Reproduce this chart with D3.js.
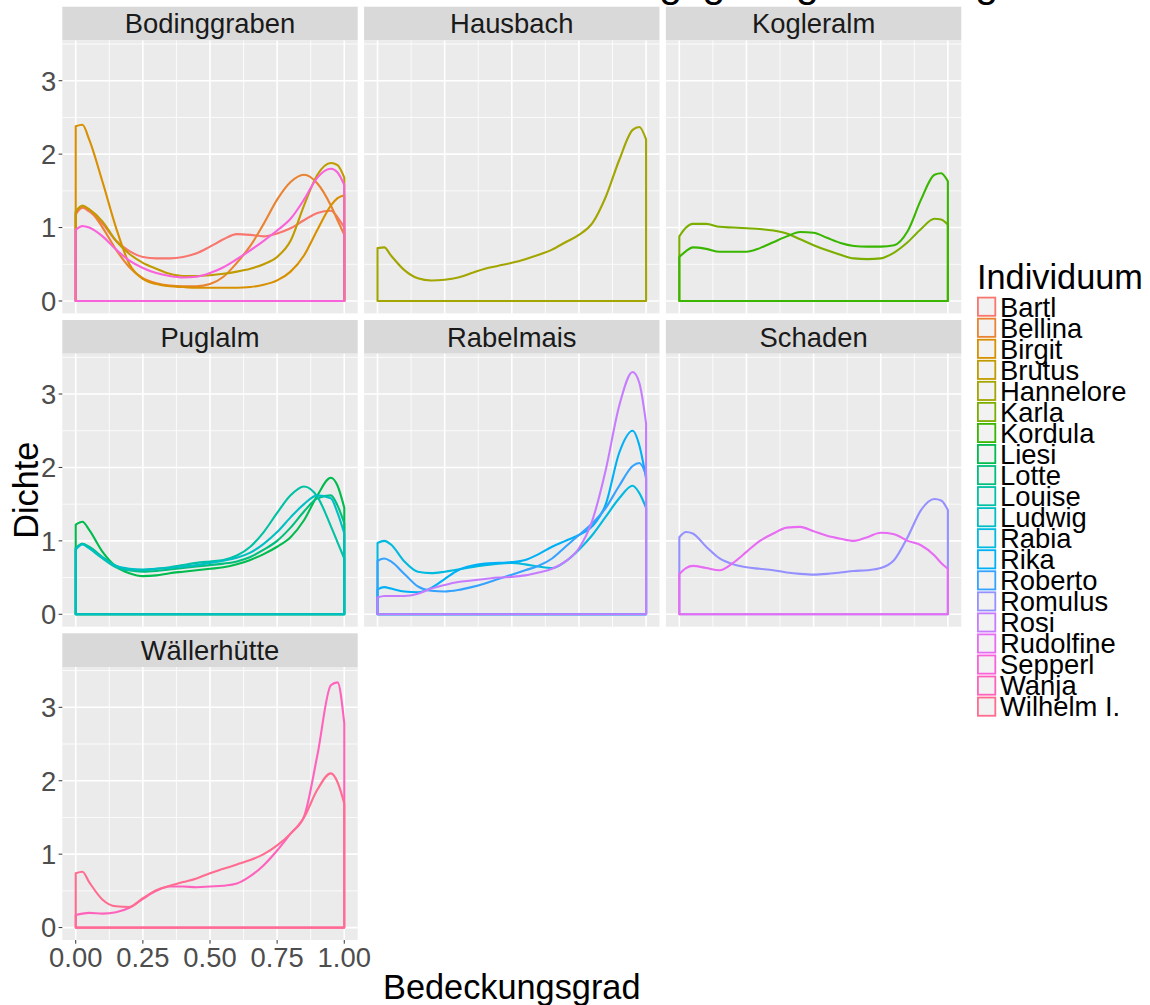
<!DOCTYPE html>
<html>
<head>
<meta charset="utf-8">
<script src="https://cdn.jsdelivr.net/npm/d3@7"></script>
<style>
  body { margin: 0; background: #fff; }
  svg { display: block; font-family: "Liberation Sans", Arial, sans-serif; }
</style>
</head>
<body>
<script>
// facets and individuals (colour order = factor order)
const facets = ["Bodinggraben", "Hausbach", "Kogleralm", "Puglalm", "Rabelmais", "Schaden", "Wällerhütte"];
const individuals = ["Bartl", "Bellina", "Birgit", "Brutus", "Hannelore", "Karla", "Kordula", "Liesi", "Lotte", "Louise",
  "Ludwig", "Rabia", "Rika", "Roberto", "Romulus", "Rosi", "Rudolfine", "Sepperl", "Wanja", "Wilhelm I."];
const colours = ["#F8766D", "#EA8331", "#D89000", "#C09B00", "#A3A500", "#7CAE00", "#39B600", "#00BB4E", "#00BF7D", "#00C1A3",
  "#00BFC4", "#00BAE0", "#00B0F6", "#35A2FF", "#9590FF", "#C77CFF", "#E76BF3", "#FA62DB", "#FF62BC", "#FF6C90"];
const facetOf = ["Bodinggraben", "Bodinggraben", "Bodinggraben", "Bodinggraben", "Hausbach", "Kogleralm", "Kogleralm",
  "Puglalm", "Puglalm", "Puglalm", "Puglalm", "Rabelmais", "Rabelmais", "Rabelmais", "Schaden", "Rabelmais", "Schaden",
  "Bodinggraben", "Wällerhütte", "Wällerhütte"];

// x positions (Bedeckungsgrad) where the densities were read
const xGrid = [0, 0.025, 0.05, 0.1, 0.15, 0.2, 0.25, 0.3, 0.35, 0.4, 0.45, 0.5, 0.55, 0.6, 0.65, 0.7, 0.75, 0.8, 0.85, 0.9, 0.95, 0.975, 1];

const dBartl     = [1.18, 1.27, 1.22, 1.05, 0.82, 0.68, 0.6, 0.58, 0.58, 0.6, 0.65, 0.74, 0.84, 0.91, 0.9, 0.88, 0.92, 0.99, 1.1, 1.2, 1.23, 1.14, 1.0];
const dBellina   = [1.2, 1.28, 1.24, 1.0, 0.7, 0.46, 0.31, 0.24, 0.21, 0.2, 0.2, 0.23, 0.33, 0.52, 0.75, 1.05, 1.38, 1.62, 1.72, 1.6, 1.3, 1.1, 0.9];
const dBirgit    = [2.38, 2.4, 2.2, 1.62, 1.0, 0.5, 0.3, 0.23, 0.2, 0.19, 0.18, 0.18, 0.18, 0.18, 0.19, 0.22, 0.28, 0.4, 0.62, 0.97, 1.3, 1.4, 1.44];
const dBrutus    = [1.22, 1.3, 1.25, 1.08, 0.82, 0.64, 0.52, 0.44, 0.37, 0.34, 0.34, 0.35, 0.37, 0.4, 0.44, 0.5, 0.6, 0.82, 1.3, 1.72, 1.88, 1.85, 1.68];
const dHannelore = [0.72, 0.73, 0.62, 0.42, 0.31, 0.28, 0.29, 0.32, 0.38, 0.44, 0.48, 0.52, 0.57, 0.63, 0.7, 0.8, 0.9, 1.06, 1.42, 1.92, 2.33, 2.37, 2.2];
const dKarla     = [0.88, 1.0, 1.05, 1.05, 1.01, 1.0, 0.99, 0.98, 0.96, 0.92, 0.84, 0.76, 0.69, 0.63, 0.58, 0.57, 0.58, 0.66, 0.8, 0.98, 1.12, 1.11, 1.04];
const dKordula   = [0.6, 0.68, 0.73, 0.71, 0.67, 0.67, 0.67, 0.72, 0.8, 0.88, 0.94, 0.93, 0.86, 0.79, 0.75, 0.74, 0.74, 0.76, 0.95, 1.38, 1.72, 1.74, 1.63];
const dLiesi     = [1.22, 1.26, 1.15, 0.85, 0.65, 0.56, 0.52, 0.53, 0.56, 0.58, 0.6, 0.62, 0.64, 0.68, 0.74, 0.82, 0.92, 1.05, 1.28, 1.62, 1.86, 1.75, 1.45];
const dLotte     = [0.9, 0.96, 0.92, 0.78, 0.66, 0.6, 0.58, 0.59, 0.61, 0.63, 0.65, 0.67, 0.69, 0.72, 0.78, 0.88, 1.0, 1.18, 1.4, 1.58, 1.62, 1.48, 1.24];
const dLouise    = [0.9, 0.96, 0.9, 0.76, 0.64, 0.6, 0.6, 0.62, 0.64, 0.67, 0.7, 0.72, 0.74, 0.8, 0.92, 1.12, 1.38, 1.62, 1.74, 1.6, 1.2, 0.98, 0.76];
const dLudwig    = [0.88, 0.95, 0.9, 0.77, 0.66, 0.62, 0.61, 0.62, 0.63, 0.65, 0.67, 0.7, 0.73, 0.77, 0.84, 0.96, 1.12, 1.32, 1.5, 1.62, 1.58, 1.38, 1.1];
const dRabia     = [0.97, 1.0, 0.95, 0.72, 0.58, 0.56, 0.58, 0.61, 0.64, 0.67, 0.69, 0.7, 0.68, 0.65, 0.63, 0.72, 0.88, 1.08, 1.33, 1.58, 1.75, 1.65, 1.45];
const dRika      = [0.34, 0.37, 0.35, 0.31, 0.3, 0.36, 0.48, 0.6, 0.66, 0.69, 0.7, 0.71, 0.74, 0.82, 0.92, 1.0, 1.08, 1.2, 1.5, 2.2, 2.5, 2.3, 1.85];
const dRoberto   = [0.73, 0.76, 0.72, 0.55, 0.38, 0.32, 0.31, 0.33, 0.37, 0.42, 0.48, 0.54, 0.6, 0.66, 0.76, 0.92, 1.08, 1.24, 1.45, 1.75, 2.02, 2.06, 1.9];
const dRomulus   = [1.05, 1.12, 1.1, 0.92, 0.76, 0.68, 0.64, 0.62, 0.6, 0.57, 0.55, 0.54, 0.55, 0.57, 0.59, 0.6, 0.63, 0.74, 1.05, 1.42, 1.57, 1.55, 1.42];
const dRosi      = [0.23, 0.25, 0.25, 0.25, 0.28, 0.35, 0.4, 0.44, 0.46, 0.48, 0.5, 0.51, 0.53, 0.57, 0.62, 0.72, 0.9, 1.28, 1.97, 2.84, 3.3, 3.15, 2.6];
const dRudolfine = [0.55, 0.63, 0.66, 0.63, 0.6, 0.7, 0.85, 1.0, 1.1, 1.18, 1.19, 1.13, 1.07, 1.03, 1.0, 1.05, 1.11, 1.09, 1.0, 0.94, 0.8, 0.7, 0.62];
const dSepperl   = [0.97, 1.02, 1.0, 0.88, 0.7, 0.55, 0.45, 0.38, 0.34, 0.32, 0.33, 0.38, 0.46, 0.57, 0.69, 0.82, 0.96, 1.12, 1.38, 1.68, 1.8, 1.75, 1.58];
const dWanja     = [0.17, 0.19, 0.2, 0.19, 0.21, 0.27, 0.39, 0.5, 0.56, 0.56, 0.55, 0.56, 0.57, 0.6, 0.7, 0.85, 1.05, 1.28, 1.51, 2.35, 3.3, 3.34, 2.78];
const dWilhelm   = [0.74, 0.76, 0.62, 0.38, 0.29, 0.28, 0.4, 0.51, 0.57, 0.62, 0.67, 0.74, 0.8, 0.86, 0.92, 1.0, 1.12, 1.28, 1.5, 1.88, 2.1, 1.98, 1.69];

const densities = [dBartl, dBellina, dBirgit, dBrutus, dHannelore, dKarla, dKordula, dLiesi, dLotte, dLouise,
  dLudwig, dRabia, dRika, dRoberto, dRomulus, dRosi, dRudolfine, dSepperl, dWanja, dWilhelm];

const xTicks = [0, 0.25, 0.5, 0.75, 1];
const xTickLabels = ["0.00", "0.25", "0.50", "0.75", "1.00"];
const xMinor = [0.125, 0.375, 0.625, 0.875];
const yTicks = [0, 1, 2, 3];
const yMinor = [0.5, 1.5, 2.5, 3.5];

// layout
const W = 1150, H = 1005;
const ncol = 3;
const panelW = 295.4, panelH = 273;
const colStep = 301.8, rowStep = 313.3;
const left0 = 62.3, top0 = 40.4, stripH = 33.7;

const svg = d3.select("body").append("svg")
  .attr("width", W).attr("height", H);

// title (mostly outside the picture, as in the reference)
svg.append("text")
  .attr("x", 998).attr("y", -3.5)
  .attr("text-anchor", "end")
  .attr("font-size", 41)
  .attr("fill", "#000")
  .text("Dichte der Individuen nach Bedeckungsgrad ganzer Tag");

const x = d3.scaleLinear().domain([-0.05, 1.05]).range([0, panelW]);
const y = d3.scaleLinear().domain([-0.169, 3.549]).range([panelH, 0]);

const line = d3.line()
  .x((d, i) => x(xGrid[i]))
  .y(d => y(d))
  .curve(d3.curveMonotoneX);

facets.forEach((f, fi) => {
  const col = fi % ncol, row = Math.floor(fi / ncol);
  const g = svg.append("g")
    .attr("transform", "translate(" + (left0 + col * colStep) + "," + (top0 + row * rowStep) + ")");

  // strip
  g.append("rect")
    .attr("x", 0).attr("y", -stripH)
    .attr("width", panelW).attr("height", stripH)
    .attr("fill", "#D9D9D9");
  g.append("text")
    .attr("x", panelW / 2).attr("y", -stripH / 2 + 9.8)
    .attr("text-anchor", "middle")
    .attr("font-size", 27.4)
    .attr("fill", "#1A1A1A")
    .text(f);

  // panel background and grid
  g.append("rect")
    .attr("width", panelW).attr("height", panelH)
    .attr("fill", "#EBEBEB");
  g.selectAll(".ymin").data(yMinor).enter().append("line")
    .attr("x1", 0).attr("x2", panelW)
    .attr("y1", d => y(d)).attr("y2", d => y(d))
    .attr("stroke", "#fff").attr("stroke-width", 0.8);
  g.selectAll(".xmin").data(xMinor).enter().append("line")
    .attr("y1", 0).attr("y2", panelH)
    .attr("x1", d => x(d)).attr("x2", d => x(d))
    .attr("stroke", "#fff").attr("stroke-width", 0.8);
  g.selectAll(".ymaj").data(yTicks).enter().append("line")
    .attr("x1", 0).attr("x2", panelW)
    .attr("y1", d => y(d)).attr("y2", d => y(d))
    .attr("stroke", "#fff").attr("stroke-width", 1.6);
  g.selectAll(".xmaj").data(xTicks).enter().append("line")
    .attr("y1", 0).attr("y2", panelH)
    .attr("x1", d => x(d)).attr("x2", d => x(d))
    .attr("stroke", "#fff").attr("stroke-width", 1.6);

  // density outlines
  individuals.forEach((name, k) => {
    if (facetOf[k] !== f) return;
    const p = line(densities[k]) +
      "L" + x(xGrid[xGrid.length - 1]) + "," + y(0) +
      "L" + x(xGrid[0]) + "," + y(0) + "Z";
    g.append("path")
      .attr("d", p)
      .attr("fill", "none")
      .attr("stroke", colours[k])
      .attr("stroke-width", 2.1)
      .attr("stroke-linejoin", "round");
  });

  // y axis on first column
  if (col === 0) {
    const ya = g.append("g");
    ya.selectAll("line").data(yTicks).enter().append("line")
      .attr("x1", -3.7).attr("x2", 0)
      .attr("y1", d => y(d)).attr("y2", d => y(d))
      .attr("stroke", "#333").attr("stroke-width", 1);
    ya.selectAll("text").data(yTicks).enter().append("text")
      .attr("x", -6).attr("y", d => y(d) + 9.8)
      .attr("text-anchor", "end")
      .attr("font-size", 27.4)
      .attr("fill", "#4D4D4D")
      .text(d => d);
  }

  // x axis only under the last panel of the bottom row
  if (fi === facets.length - 1) {
    const xa = g.append("g").attr("transform", "translate(0," + panelH + ")");
    xa.selectAll("line").data(xTicks).enter().append("line")
      .attr("x1", d => x(d)).attr("x2", d => x(d))
      .attr("y1", 0).attr("y2", 3.7)
      .attr("stroke", "#333").attr("stroke-width", 1);
    xa.selectAll("text").data(xTicks).enter().append("text")
      .attr("x", d => x(d)).attr("y", 26.5)
      .attr("text-anchor", "middle")
      .attr("font-size", 27.4)
      .attr("fill", "#4D4D4D")
      .text((d, i) => xTickLabels[i]);
  }
});

// axis titles
svg.append("text")
  .attr("x", left0 + (2 * colStep + panelW) / 2).attr("y", 999)
  .attr("text-anchor", "middle")
  .attr("font-size", 34.3)
  .text("Bedeckungsgrad");

svg.append("text")
  .attr("transform", "translate(38," + (top0 + (2 * rowStep + panelH) / 2) + ") rotate(-90)")
  .attr("text-anchor", "middle")
  .attr("font-size", 34.3)
  .text("Dichte");

// legend
const legend = svg.append("g").attr("transform", "translate(977,0)");
legend.append("text")
  .attr("x", 0).attr("y", 289)
  .attr("font-size", 34.3)
  .text("Individuum");

const keyStep = 21.05, keyTop = 296.7;
individuals.forEach((name, k) => {
  const ky = keyTop + k * keyStep;
  legend.append("rect")
    .attr("x", 0.9).attr("y", ky + 0.9)
    .attr("width", 17.4).attr("height", 18.2)
    .attr("fill", "#F2F2F2")
    .attr("stroke", colours[k])
    .attr("stroke-width", 1.8);
  legend.append("text")
    .attr("x", 23).attr("y", ky + 10 + 9.8)
    .attr("font-size", 27.4)
    .text(name);
});
</script>
</body>
</html>
